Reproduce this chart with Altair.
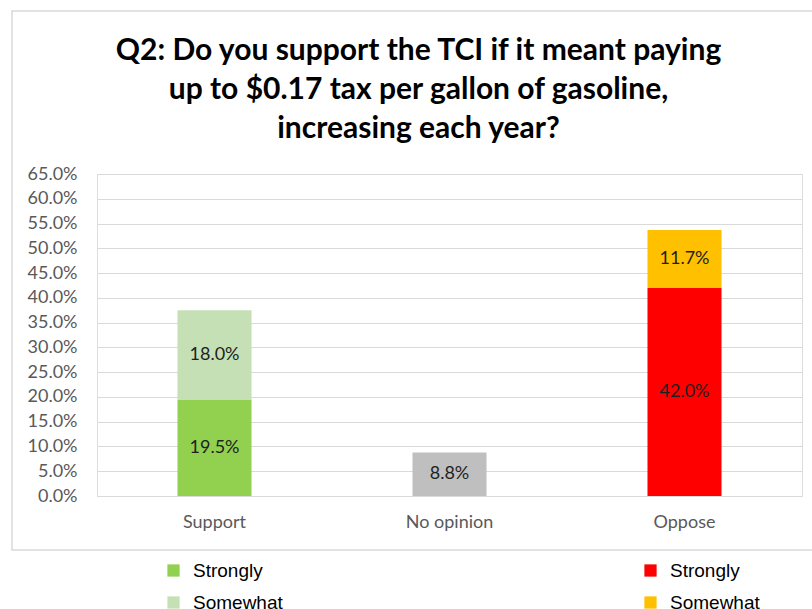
import altair as alt
import pandas as pd

# ---- data ----
categories = ["Support", "No opinion", "Oppose"]
bar_category = ["Support", "Support", "No opinion", "Oppose", "Oppose"]
bar_level = ["Strongly", "Somewhat", "No opinion", "Strongly", "Somewhat"]
bar_group = ["support", "support", "neutral", "oppose", "oppose"]
bar_order = [0, 1, 0, 0, 1]
bar_value = [19.5, 18.0, 8.8, 42.0, 11.7]
y_ticks = [0, 5, 10, 15, 20, 25, 30, 35, 40, 45, 50, 55, 60, 65]
levels = ["Strongly", "Somewhat"]
support_colors = ["#92D050", "#C5E0B4"]
oppose_colors = ["#FF0000", "#FFC000"]
neutral_color = "#BFBFBF"
title_lines = [
    "Q2: Do you support the TCI if it meant paying",
    "up to $0.17 tax per gallon of gasoline,",
    "increasing each year?",
]

df = pd.DataFrame({
    "category": bar_category,
    "level": bar_level,
    "group": bar_group,
    "ord": bar_order,
    "value": bar_value,
})

FONT = "Lato"
AX_COLOR = "#595959"
GRID = "#D9D9D9"

x_scale = alt.Scale(domain=categories, paddingInner=0.685, paddingOuter=0.3425)
x_axis = alt.Axis(
    title=None, labelAngle=0, ticks=False, domainColor=GRID,
    labelFont=FONT, labelFontSize=18, labelColor=AX_COLOR, labelPadding=17,
    grid=False,
)
y_scale = alt.Scale(domain=[0, 65], nice=False, zero=True)
y_axis = alt.Axis(
    title=None, values=y_ticks, labelExpr="format(datum.value, '.1f') + '%'",
    domain=False, ticks=False, gridColor=GRID, gridWidth=1, labelOverlap=False,
    labelFont=FONT, labelFontSize=18, labelColor=AX_COLOR, labelPadding=20,
)


def xe():
    return alt.X("category:N", sort=categories, scale=x_scale, axis=x_axis)


def ye(field="value:Q", stack="zero"):
    return alt.Y(field, stack=stack, scale=y_scale, axis=y_axis)


base = alt.Chart(df)

legend_common = dict(
    orient="none", title=None, direction="vertical",
    symbolType="square", symbolSize=150, symbolStrokeWidth=0,
    labelFont="Liberation Sans", labelFontSize=19, labelColor="#000000",
    labelOffset=10, rowPadding=12, padding=0,
)

support = base.transform_filter(alt.datum.group == "support").mark_bar().encode(
    x=xe(),
    y=ye(),
    color=alt.Color(
        "level:N",
        scale=alt.Scale(domain=levels, range=support_colors),
        legend=alt.Legend(legendX=67, legendY=387, **legend_common),
    ),
    order=alt.Order("ord:Q"),
)

oppose = base.transform_filter(alt.datum.group == "oppose").mark_bar().encode(
    x=xe(),
    y=ye(),
    color=alt.Color(
        "level:N",
        scale=alt.Scale(domain=levels, range=oppose_colors),
        legend=alt.Legend(legendX=544, legendY=387, **legend_common),
    ),
    order=alt.Order("ord:Q"),
)

neutral = base.transform_filter(alt.datum.group == "neutral").mark_bar(
    color=neutral_color
).encode(
    x=xe(),
    y=ye(),
)

labels = base.transform_window(
    cum="sum(value)", groupby=["category"], sort=[alt.SortField("ord")]
).transform_calculate(
    mid="datum.cum - datum.value / 2",
    label="format(datum.value, '.1f') + '%'",
).mark_text(font=FONT, fontSize=18, color="#1f1f1f", baseline="middle").encode(
    x=xe(),
    y=ye("mid:Q", None),
    text="label:N",
)

border = alt.Chart(pd.DataFrame({"a": [0]})).mark_rect(
    fill="transparent", stroke="#D9D9D9", strokeWidth=1.5
).encode(
    x=alt.value(-85), x2=alt.value(740), y=alt.value(-163), y2=alt.value(376)
)

chart = alt.layer(border, support, oppose, neutral, labels).resolve_scale(
    color="independent"
).properties(
    width=705,
    height=322,
    padding={"left": 97, "top": 174, "right": 10, "bottom": 113},
    autosize=alt.AutoSizeParams(type="none"),
    title=alt.TitleParams(
        text=title_lines, font=FONT, fontSize=30, fontWeight="bold",
        color="#000000", lineHeight=39, anchor="middle", dx=-31, offset=0,
        dy=134,
    ),
).configure_view(stroke=None).configure(background="white")

chart.save("out.html", embed_options={"renderer": "svg", "actions": False})
